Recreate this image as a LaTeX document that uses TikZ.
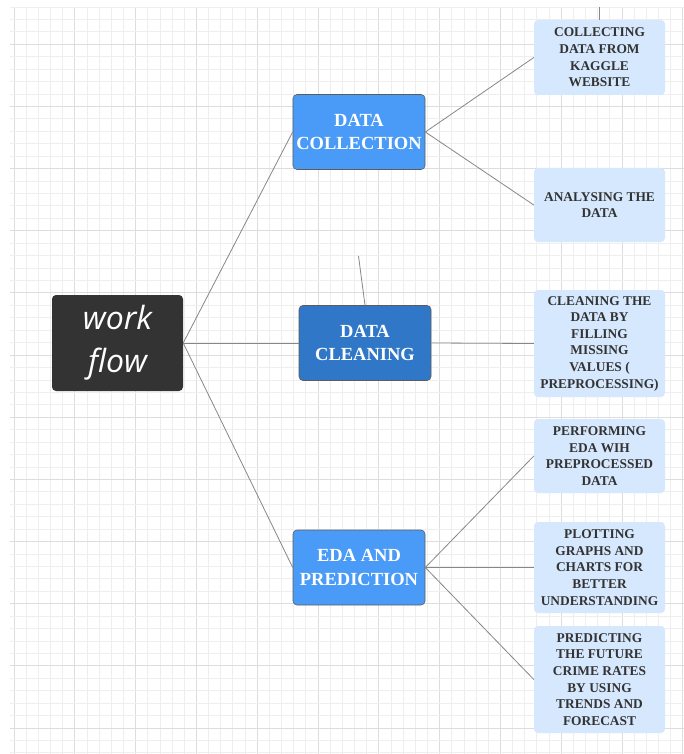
\documentclass[tikz,border=0pt]{standalone}
\usepackage{fontspec}
\setmainfont{Liberation Serif}
\newfontfamily\wffont{Open Sans}
\usepackage{tikz}
\usepackage{xcolor}
\definecolor{darkbox}{RGB}{51, 51, 51}
\definecolor{bluehue1}{RGB}{74, 154, 247}
\definecolor{bluehue2}{RGB}{48, 119, 200}
\definecolor{bluehue3}{RGB}{214, 232, 253}
\definecolor{gridminor}{RGB}{238, 238, 238}
\definecolor{gridmajor}{RGB}{221, 221, 221}
\definecolor{linkgray}{RGB}{135, 135, 135}

\begin{document}
\begin{tikzpicture}[
    x=1pt, y=-1pt,
    rootbox/.style={fill=darkbox, rounded corners=4pt, text=white,
        minimum width=131pt, minimum height=96pt, align=center,
        font=\wffont\itshape\fontsize{32}{43}\selectfont},
    stagebox/.style={draw=darkbox!80, line width=0.6pt, rounded corners=4pt,
        text=white, minimum width=132pt, minimum height=75pt, align=center,
        font=\bfseries\fontsize{18.5}{23.5}\selectfont},
    taskbox/.style={fill=bluehue3, rounded corners=4pt, text=darkbox,
        minimum width=131pt, align=center, inner sep=0pt,
        font=\bfseries\fontsize{13.4}{16.6}\selectfont},
    link/.style={draw=linkgray, line width=0.8pt},
]
    \useasboundingbox (0,0) rectangle (684,754);
    \fill[white] (0,0) rectangle (684,754);
    \foreach \i in {0,...,55}{
        \pgfmathsetmacro{\gx}{14+12.16*\i}
        \pgfmathtruncatemacro{\major}{mod(\i,5)==0}
        \ifnum\major=1
            \draw[gridmajor, line width=0.8pt] (\gx,7) -- (\gx,754);
        \else
            \draw[gridminor, line width=0.8pt] (\gx,7) -- (\gx,754);
        \fi
    }
    \foreach \j in {0,...,60}{
        \pgfmathsetmacro{\gy}{7+12.43*\j}
        \pgfmathtruncatemacro{\major}{mod(\j,5)==3}
        \ifnum\major=1
            \draw[gridmajor, line width=0.8pt] (10,\gy) -- (684,\gy);
        \else
            \draw[gridminor, line width=0.8pt] (10,\gy) -- (684,\gy);
        \fi
    }

    \node[rootbox] (workflow) at (117.5,343) {work\\flow};

    \node[stagebox, fill=bluehue1] (collection) at (359,132) {DATA\\COLLECTION};
    \node[stagebox, fill=bluehue2] (cleaning) at (365,343) {DATA\\CLEANING};
    \node[stagebox, fill=bluehue1] (eda) at (359,567.5) {EDA AND\\PREDICTION};

    \node[taskbox, minimum height=75pt] (kaggle) at (599.5,57.5)
        {COLLECTING\\DATA FROM\\KAGGLE\\WEBSITE};
    \node[taskbox, minimum height=74pt] (analyse) at (599.5,205)
        {ANALYSING THE\\DATA};
    \node[taskbox, minimum height=107pt] (missing) at (599.5,343.5)
        {CLEANING THE\\DATA BY\\FILLING\\MISSING\\VALUES (\\PREPROCESSING)};
    \node[taskbox, minimum height=74pt] (edatask) at (599.5,456)
        {PERFORMING\\EDA WIH\\PREPROCESSED\\DATA};
    \node[taskbox, minimum height=91pt] (plots) at (599.5,567.5)
        {PLOTTING\\GRAPHS AND\\CHARTS FOR\\BETTER\\UNDERSTANDING};
    \node[taskbox, minimum height=107pt] (forecast) at (599.5,679.5)
        {PREDICTING\\THE FUTURE\\CRIME RATES\\BY USING\\TRENDS AND\\FORECAST};

    \coordinate (toptail) at (599.5,7);
    \coordinate (midtail) at (358.5,256);

    \draw[link] (workflow.east) -- (collection.west);
    \draw[link] (workflow.east) -- (cleaning.west);
    \draw[link] (workflow.east) -- (eda.west);
    \draw[link] (collection.east) -- (kaggle.west);
    \draw[link] (collection.east) -- (analyse.west);
    \draw[link] (cleaning.east) -- (missing.west);
    \draw[link] (eda.east) -- (edatask.west);
    \draw[link] (eda.east) -- (plots.west);
    \draw[link] (eda.east) -- (forecast.west);
    \draw[link] (toptail) -- (kaggle.north);
    \draw[link] (midtail) -- (cleaning.north);
\end{tikzpicture}
\end{document}
